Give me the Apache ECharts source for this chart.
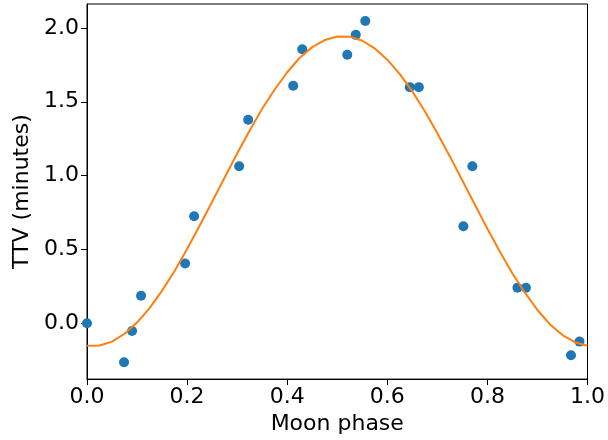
<!DOCTYPE html>
<html>
<head>
<meta charset="utf-8">
<script src="https://cdn.jsdelivr.net/npm/echarts@6/dist/echarts.min.js"></script>
<style>
  html, body { margin: 0; padding: 0; background: #fff; }
  #chart { width: 608px; height: 440px; }
</style>
</head>
<body>
<div id="chart"></div>
<script>
  // measured TTV points
  var phase = [0.0, 0.074, 0.090, 0.108, 0.196, 0.214, 0.304, 0.322, 0.412, 0.430,
               0.520, 0.537, 0.556, 0.645, 0.663, 0.752, 0.770, 0.860, 0.877, 0.967, 0.984];
  var ttv = [0.0, -0.264, -0.052, 0.187, 0.405, 0.725, 1.063, 1.378, 1.608, 1.856,
             1.818, 1.953, 2.047, 1.599, 1.599, 0.657, 1.063, 0.241, 0.241, -0.216, -0.124];

  // fitted curve, every 0.025
  var fitPhase = [0.0, 0.025, 0.05, 0.075, 0.10, 0.125, 0.15, 0.175, 0.20, 0.225,
                  0.25, 0.275, 0.30, 0.325, 0.35, 0.375, 0.40, 0.425, 0.45, 0.475,
                  0.50, 0.525, 0.55, 0.575, 0.60, 0.625, 0.65, 0.675, 0.70, 0.725,
                  0.75, 0.775, 0.80, 0.825, 0.85, 0.875, 0.90, 0.925, 0.95, 0.975, 1.0];
  var fitTtv = [-0.152, -0.151, -0.124, -0.071, 0.005, 0.103, 0.221, 0.354, 0.503, 0.660,
                0.823, 0.987, 1.150, 1.306, 1.453, 1.583, 1.700, 1.798, 1.870, 1.918,
                1.942, 1.941, 1.913, 1.861, 1.785, 1.687, 1.570, 1.436, 1.287, 1.130,
                0.967, 0.803, 0.640, 0.484, 0.337, 0.207, 0.090, -0.008, -0.080, -0.128, -0.152];

  var yTicks = [0, 0.5, 1.0, 1.5, 2.0];
  var xTicks = [0, 0.2, 0.4, 0.6, 0.8, 1.0];

  var font = "DejaVu Sans";
  var myChart = echarts.init(document.getElementById("chart"));

  myChart.setOption({
    animation: false,
    grid: {
      left: 87,
      right: 20,
      top: 4,
      bottom: 60,
      show: true,
      borderColor: "#000",
      borderWidth: 1
    },
    xAxis: {
      type: "value",
      min: 0,
      max: 1,
      name: "Moon phase",
      nameLocation: "middle",
      nameGap: 32,
      nameTextStyle: { fontFamily: font, fontSize: 22, color: "#000" },
      axisLine: { show: true, onZero: false, lineStyle: { color: "#000", width: 1 } },
      axisTick: { show: true, inside: false, length: 6, customValues: xTicks, lineStyle: { color: "#000" } },
      axisLabel: {
        customValues: xTicks,
        fontFamily: font, fontSize: 22, color: "#000", margin: 7,
        formatter: function (v) { return v.toFixed(1); }
      },
      splitLine: { show: false }
    },
    yAxis: {
      type: "value",
      min: -0.378,
      max: 2.162,
      name: "TTV (minutes)",
      nameLocation: "middle",
      nameGap: 47,
      nameTextStyle: { fontFamily: font, fontSize: 22, color: "#000" },
      axisLine: { show: true, onZero: false, lineStyle: { color: "#000", width: 1 } },
      axisTick: { show: true, inside: false, length: 6, customValues: yTicks, lineStyle: { color: "#000" } },
      axisLabel: {
        customValues: yTicks,
        fontFamily: font, fontSize: 22, color: "#000", margin: 8,
        formatter: function (v) { return v.toFixed(1); }
      },
      splitLine: { show: false }
    },
    series: [
      {
        type: "line",
        data: fitPhase.map(function (x, i) { return [x, fitTtv[i]]; }),
        smooth: false,
        showSymbol: false,
        lineStyle: { color: "#ff7f0e", width: 2 }
      },
      {
        type: "scatter",
        data: phase.map(function (x, i) { return [x, ttv[i]]; }),
        symbolSize: 10,
        itemStyle: { color: "#1f77b4", opacity: 1 }
      }
    ]
  });
</script>
</body>
</html>
